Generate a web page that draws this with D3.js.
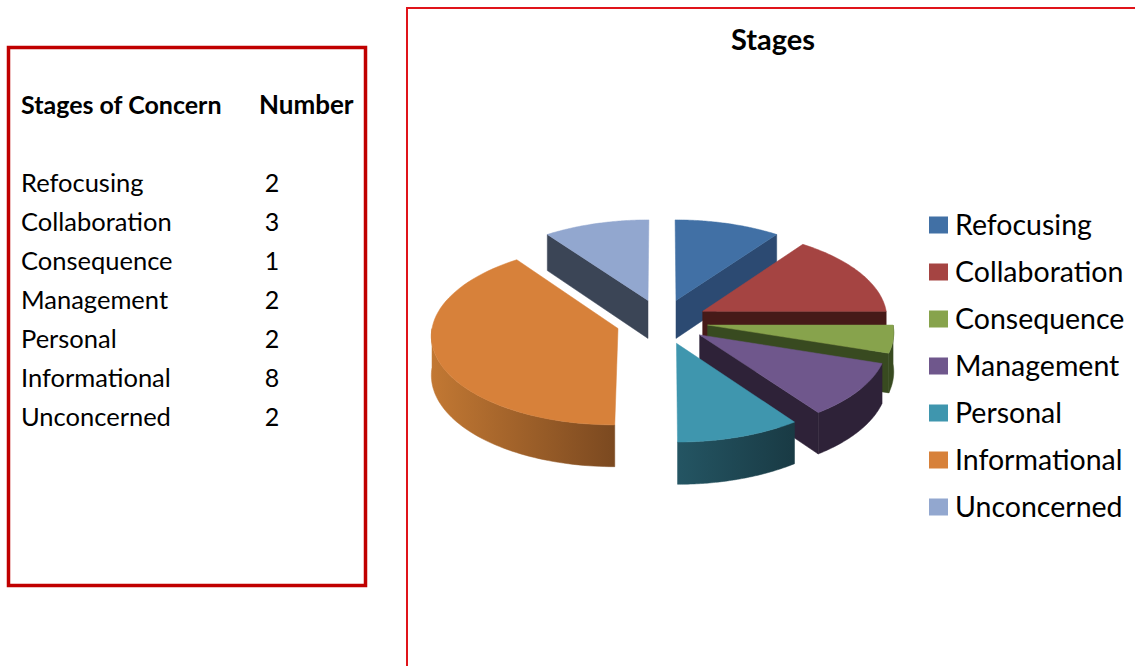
<!DOCTYPE html>
<html>
<head>
<meta charset="utf-8">
<style>
  html, body { margin: 0; padding: 0; background: #fff; }
  svg { display: block; }
  text { font-family: Lato, "Open Sans", sans-serif; fill: #000; }
</style>
<script src="https://cdn.jsdelivr.net/npm/d3@7/dist/d3.min.js"></script>
</head>
<body>
<script>
const categories = ["Refocusing", "Collaboration", "Consequence", "Management", "Personal", "Informational", "Unconcerned"];
const counts = [2, 3, 1, 2, 2, 8, 2];
const topColors = ["#4170a5", "#a54442", "#87a34c", "#6f578c", "#3f96ae", "#d7813a", "#92a7cf"];
const wallColors = ["#2c4a72", "#461a18", "#384a20", "#2e2238", "#1d4450", "#a4622c", "#3b4556"];
const wallGradients = [null, null, null, null, ["#245563", "#193a44"], ["#c27833", "#7b4920"], null];
const tableHeaders = ["Stages of Concern", "Number"];
const chartTitle = "Stages";

const width = 1135, height = 666;
const svg = d3.select("body").append("svg").attr("width", width).attr("height", height);
const defs = svg.append("defs");

// Frames around the table and the chart
svg.append("rect").attr("x", 8.5).attr("y", 47.5).attr("width", 357).attr("height", 538)
  .attr("fill", "none").attr("stroke", "#c00000").attr("stroke-width", 3.5);
svg.append("rect").attr("x", 407).attr("y", 8).attr("width", 800).attr("height", 800)
  .attr("fill", "none").attr("stroke", "#e0141a").attr("stroke-width", 2);

// Table
const table = svg.append("g");
table.append("text").attr("x", 21).attr("y", 114).attr("font-size", 25).attr("font-weight", 700).text(tableHeaders[0]);
table.append("text").attr("x", 259).attr("y", 114).attr("font-size", 26).attr("font-weight", 700).text(tableHeaders[1]);
const rowY = d3.scalePoint().domain(categories).range([183.5, 417.5]);
table.selectAll("text.name").data(categories).join("text").attr("class", "name")
  .attr("x", 21).attr("y", d => rowY(d)).attr("dy", "0.35em").attr("font-size", 25.5).text(d => d);
table.selectAll("text.count").data(counts).join("text").attr("class", "count")
  .attr("x", 272).attr("text-anchor", "middle").attr("y", (d, i) => rowY(categories[i])).attr("dy", "0.35em")
  .attr("font-size", 25).text(d => d);

// Title
svg.append("text").attr("x", 773).attr("y", 50).attr("text-anchor", "middle")
  .attr("font-size", 29).attr("font-weight", 700).text(chartTitle);

// Perspective projection of the tilted pie plane
const cx = 662, cy = 321.5, radius = 185, explode = 46, explodeBack = 47, depth = 38.7, tilt = 0.48, focal = 2700;
function project(mx, my, mz) {
  const p = 1 / (1 + my / focal);
  return [cx + mx * p, cy - tilt * my * p + mz * p];
}
function rim(angle, off, r, z) {
  return project(off[0] + r * Math.sin(angle), off[1] + r * Math.cos(angle), z);
}
const line = d3.line();
const arcPoints = (a0, a1, off, z) =>
  d3.range(0, 61).map(i => rim(a0 + (a1 - a0) * i / 60, off, radius, z));

const slices = d3.pie().sort(null).startAngle(0).endAngle(2 * Math.PI)(counts).map(s => {
  const mid = (s.startAngle + s.endAngle) / 2;
  return { ...s, mid, off: [explode * Math.sin(mid), explodeBack * Math.cos(mid)] };
});

wallGradients.forEach((g, i) => {
  if (!g) return;
  const lg = defs.append("linearGradient").attr("id", "wall" + i);
  lg.append("stop").attr("offset", "0%").attr("stop-color", g[0]);
  lg.append("stop").attr("offset", "100%").attr("stop-color", g[1]);
});

// Slices are painted back to front so nearer ones cover farther walls
const order = slices.slice().sort((a, b) => d3.descending(a.off[1], b.off[1]));
const pieG = svg.append("g");
const eps = 1e-6;
order.forEach(s => {
  const g = pieG.append("g");
  const wall = wallColors[s.index];
  const wallFill = wallGradients[s.index] ? `url(#wall${s.index})` : wall;
  const apexT = project(s.off[0], s.off[1], 0), apexB = project(s.off[0], s.off[1], depth);
  // Cut faces that turn toward the viewer
  const faces = [];
  if (Math.sin(s.startAngle) < -eps) faces.push(s.startAngle);
  if (Math.sin(s.endAngle) > eps) faces.push(s.endAngle);
  faces.forEach(a => {
    g.append("path").attr("fill", wall).attr("stroke", wall).attr("stroke-width", 0.5)
      .attr("d", line([apexT, rim(a, s.off, radius, 0), rim(a, s.off, radius, depth), apexB]) + "Z");
  });
  // Outer rim wall, front-facing part only
  const a0 = Math.max(s.startAngle, Math.PI / 2), a1 = Math.min(s.endAngle, 3 * Math.PI / 2);
  if (a1 > a0) {
    g.append("path").attr("fill", wallFill).attr("stroke", wallFill).attr("stroke-width", 0.5)
      .attr("d", line(arcPoints(a0, a1, s.off, 0).concat(arcPoints(a1, a0, s.off, depth))) + "Z");
  }
  // Top face
  g.append("path").attr("fill", topColors[s.index]).attr("stroke", topColors[s.index]).attr("stroke-width", 0.5)
    .attr("d", line([apexT].concat(arcPoints(s.startAngle, s.endAngle, s.off, 0))) + "Z");
});

// Legend
const legendY = d3.scalePoint().domain(categories).range([225, 507]);
const legend = svg.append("g").selectAll("g").data(categories).join("g")
  .attr("transform", d => `translate(0,${legendY(d)})`);
legend.append("rect").attr("x", 929).attr("y", -8.5).attr("width", 19).attr("height", 17)
  .attr("fill", (d, i) => topColors[i]);
legend.append("text").attr("x", 955).attr("dy", "0.35em").attr("font-size", 28.5).text(d => d);
</script>
</body>
</html>
